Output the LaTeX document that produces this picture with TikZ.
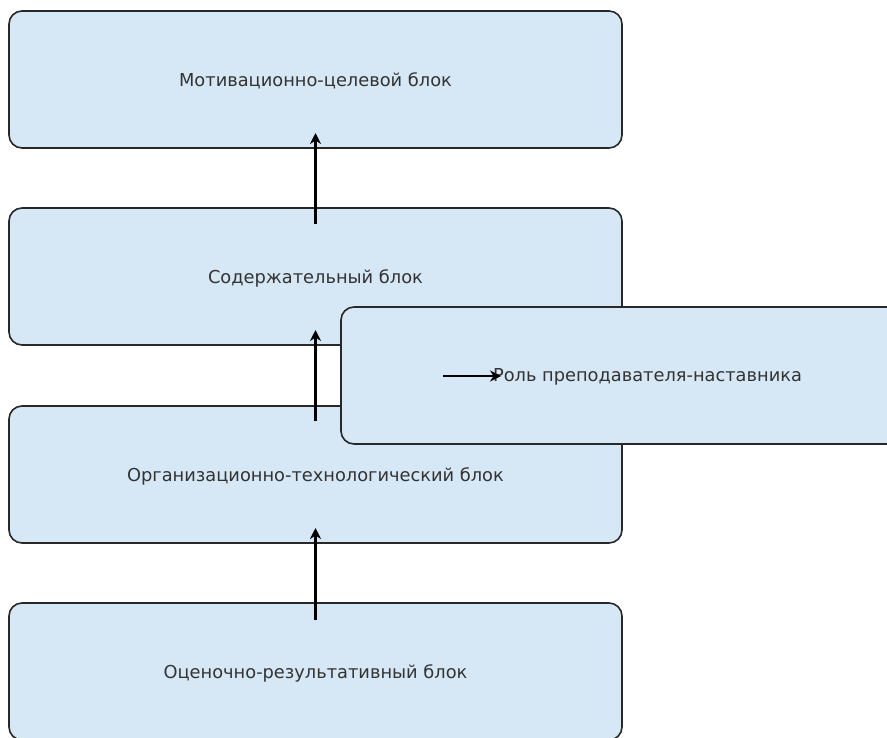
\documentclass[tikz,border=0pt]{standalone}
\usepackage{fontspec}
\setmainfont{DejaVu Sans}
\usetikzlibrary{arrows.meta}
\definecolor{boxfill}{RGB}{214,232,245}
\definecolor{boxline}{RGB}{40,40,40}
\definecolor{txt}{RGB}{51,51,51}
\begin{document}
\begin{tikzpicture}[x=1pt,y=-1pt,
  block/.style={draw=boxline, line width=1.6pt, fill=boxfill, rounded corners=13pt,
    minimum width=613pt, minimum height=137pt, inner sep=0pt, anchor=center,
    text depth=0pt, text=txt, font=\fontsize{17.8}{21}\selectfont},
  arr/.style={draw=black, line width=2.4pt, -{Stealth[length=11pt,width=11pt]}}]
  \useasboundingbox (0,0) rectangle (887,737);
  \clip (0,0) rectangle (887,737);
  % stacked blocks
  \node[block] (b1) at (315.5,79.5)  {Мотивационно-целевой блок};
  \node[block] (b2) at (315.5,276.5) {Содержательный блок};
  \node[block] (b3) at (315.5,474.5) {Организационно-технологический блок};
  \node[block] (b4) at (315.5,671.5) {Оценочно-результативный блок};
  % side block
  \node[block] (r) at (647.5,375.5) {Роль преподавателя-наставника};
  % connectors
  \draw[arr] ([yshift=52.5pt]b2.center) -- ([yshift=-53.5pt]b1.center);
  \draw[arr] ([yshift=53.5pt]b3.center) -- ([yshift=-53.5pt]b2.center);
  \draw[arr] ([yshift=51.5pt]b4.center) -- ([yshift=-53.5pt]b3.center);
  \coordinate (h0) at (443,376);
  \coordinate (h1) at (501,376);
  \draw[arr] (h0) -- (h1);
\end{tikzpicture}
\end{document}
